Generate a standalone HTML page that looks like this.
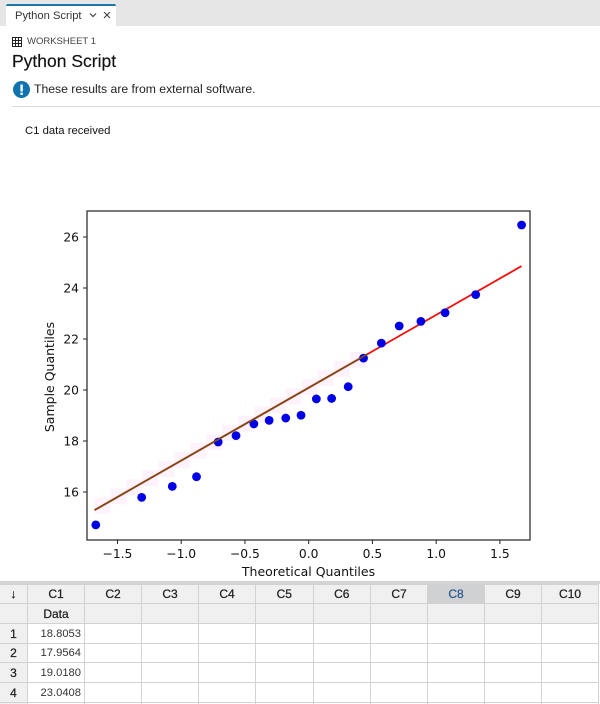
<!DOCTYPE html>
<html lang="en">
<head>
<meta charset="utf-8">
<title>Python Script</title>
<style>
html,body{margin:0;padding:0;background:#fff}
#page{position:relative;width:600px;height:704px;overflow:hidden;background:#fff;font-family:"Liberation Sans",sans-serif;color:#1c1c1c;filter:blur(.3px)}
.abs{position:absolute;white-space:nowrap}
#tabbar{left:0;top:0;width:600px;height:26px;background:#e6e6e6}
#tab{left:6px;top:4px;width:110px;height:22px;background:#fff;border-top:2px solid #1f77a8;box-sizing:border-box;border-radius:2px 2px 0 0}
#grid{position:absolute;left:-1px;top:584px;border-collapse:collapse;table-layout:fixed;width:599px;font-size:12px}
#grid td{padding:0;border:1px solid #d2d2d2;text-align:center;box-sizing:border-box;overflow:hidden;white-space:nowrap}
#grid .h{background:#f0f0f0;color:#222;-webkit-text-stroke:.25px #222}
#grid .n{text-align:right;padding-right:3px;color:#333;font-size:11.2px}
#grid .sel{background:#cfd1d2;color:#2c5a8c;-webkit-text-stroke:.25px #2c5a8c}
svg text{font-family:"DejaVu Sans",sans-serif;fill:#111}
</style>
</head>
<body>
<div id="page">
  <div id="tabbar" class="abs"></div>
  <div id="tab" class="abs"></div>
  <div class="abs" style="left:15px;top:10px;font-size:11.2px;color:#333">Python Script</div>
  <svg class="abs" style="left:88px;top:12px" width="28" height="10">
    <path d="M2 1.5 L5 4.5 L8 1.5" fill="none" stroke="#444" stroke-width="1.2"/>
    <path d="M16 0 L22 6 M22 0 L16 6" fill="none" stroke="#444" stroke-width="1.1"/>
  </svg>
  <svg class="abs" style="left:12px;top:37px" width="11" height="11">
    <path d="M.5 .5H9.5V9.5H.5Z M.5 3.5H9.5 M.5 6.5H9.5 M3.5 .5V9.5 M6.5 .5V9.5" fill="none" stroke="#222" stroke-width="1"/>
  </svg>
  <div class="abs" style="left:27px;top:36px;font-size:9.5px;color:#444;line-height:12px">WORKSHEET 1</div>
  <div class="abs" style="left:12px;top:51px;font-size:17.5px;color:#111;-webkit-text-stroke:.15px #111">Python Script</div>
  <svg class="abs" style="left:13px;top:81px" width="18" height="18">
    <circle cx="8.5" cy="8.5" r="8.5" fill="#0f73b0"/>
    <rect x="7.4" y="3.5" width="2.4" height="7" fill="#fff"/>
    <rect x="7.4" y="11.6" width="2.4" height="2.4" fill="#fff"/>
  </svg>
  <div class="abs" style="left:34px;top:82px;font-size:12.2px;color:#222">These results are from external software.</div>
  <div class="abs" style="left:12px;top:106px;width:588px;height:1px;background:#d9d9d9"></div>
  <div class="abs" style="left:25px;top:125px;font-size:11.3px;color:#111">C1 data received</div>

  <svg id="chart" class="abs" style="left:0;top:0" width="600" height="582"></svg>

  <div class="abs" style="left:0;top:581px;width:600px;height:3px;background:#d4d4d4"></div>
  <table id="grid">
    <colgroup><col style="width:28px"><col style="width:57px"><col style="width:57px"><col style="width:57px"><col style="width:57px"><col style="width:57.5px"><col style="width:57.5px"><col style="width:57px"><col style="width:57px"><col style="width:57px"><col style="width:57px"></colgroup>
    <tr style="height:19px"><td class="h">↓</td><td class="h">C1</td><td class="h">C2</td><td class="h">C3</td><td class="h">C4</td><td class="h">C5</td><td class="h">C6</td><td class="h">C7</td><td class="h sel">C8</td><td class="h">C9</td><td class="h">C10</td></tr>
    <tr style="height:20px"><td class="h"></td><td class="h">Data</td><td class="h"></td><td class="h"></td><td class="h"></td><td class="h"></td><td class="h"></td><td class="h"></td><td class="h"></td><td class="h"></td><td class="h"></td></tr>
    <tr style="height:20px"><td class="h">1</td><td class="n">18.8053</td><td></td><td></td><td></td><td></td><td></td><td></td><td></td><td></td><td></td></tr>
    <tr style="height:19px"><td class="h">2</td><td class="n">17.9564</td><td></td><td></td><td></td><td></td><td></td><td></td><td></td><td></td><td></td></tr>
    <tr style="height:20px"><td class="h">3</td><td class="n">19.0180</td><td></td><td></td><td></td><td></td><td></td><td></td><td></td><td></td><td></td></tr>
    <tr style="height:20px"><td class="h">4</td><td class="n">23.0408</td><td></td><td></td><td></td><td></td><td></td><td></td><td></td><td></td><td></td></tr>
    <tr style="height:20px"><td class="h"></td><td></td><td></td><td></td><td></td><td></td><td></td><td></td><td></td><td></td><td></td></tr>
  </table>
</div>
<script>
const theoretical = [-1.67,-1.31,-1.07,-0.88,-0.71,-0.57,-0.43,-0.31,-0.18,-0.06,0.06,0.18,0.31,0.43,0.57,0.71,0.88,1.07,1.31,1.67];
const sample = [14.71,15.79,16.22,16.60,17.96,18.21,18.67,18.81,18.90,19.01,19.65,19.67,20.13,21.25,21.84,22.51,22.69,23.03,23.74,26.47];
const fitLineX = [-1.68,1.67];
const fitLineY = [15.29,24.86];
const brownEndX = [0.465];
const xTicks = [-1.5,-1.0,-0.5,0,0.5,1.0,1.5];
const xTickLabels = ['−1.5','−1.0','−0.5','0.0','0.5','1.0','1.5'];
const yTicks = [16,18,20,22,24,26];
const yTickLabels = ['16','18','20','22','24','26'];
const xDomain = [-1.739,1.736];
const yDomain = [14.118,27.02];

const plotLeft = 87, plotRight = 530, plotTop = 211, plotBottom = 540;
const NS = 'http://www.w3.org/2000/svg';
const chart = document.getElementById('chart');
function xScale(v){ return plotLeft + (v - xDomain[0]) / (xDomain[1] - xDomain[0]) * (plotRight - plotLeft); }
function yScale(v){ return plotBottom - (v - yDomain[0]) / (yDomain[1] - yDomain[0]) * (plotBottom - plotTop); }
function fitAt(x){ return fitLineY[0] + (x - fitLineX[0]) / (fitLineX[1] - fitLineX[0]) * (fitLineY[1] - fitLineY[0]); }
function make(tag, attrs, parent){
  const el = document.createElementNS(NS, tag);
  for (const k in attrs) el.setAttribute(k, attrs[k]);
  (parent || chart).appendChild(el);
  return el;
}

// faint pink compression halo following the brown part of the fit line
const haloStep = 0.125;
for (let x = fitLineX[0]; x + haloStep <= brownEndX[0] + 0.03; x += haloStep) {
  const halo = make('rect', {x: xScale(x), y: yScale(fitAt(x + haloStep / 2)) - 8, width: 16, height: 16, fill: '#fef3fd'});
  
  
}

// axes frame
const frame = make('rect', {x: plotLeft, y: plotTop, width: plotRight - plotLeft, height: plotBottom - plotTop, fill: 'none', stroke: '#333', 'stroke-width': 1.3});



// ticks and labels
xTicks.forEach(function(t, i){
  const px = xScale(t);
  const tick = make('line', {x1: px, x2: px, y1: plotBottom, y2: plotBottom + 4, stroke: '#222', 'stroke-width': 1});
  
  
  const label = make('text', {x: px, y: plotBottom + 18, 'text-anchor': 'middle', 'font-size': 12.3});
  label.textContent = xTickLabels[i];
  
  
});
yTicks.forEach(function(t, i){
  const py = yScale(t);
  const tick = make('line', {x1: plotLeft - 4, x2: plotLeft, y1: py, y2: py, stroke: '#222', 'stroke-width': 1});
  
  
  const label = make('text', {x: plotLeft - 8, y: py + 4.5, 'text-anchor': 'end', 'font-size': 12.3});
  label.textContent = yTickLabels[i];
  
  
});

// fit line: red overall, brown where it overlaps the halo
const redLine = make('line', {x1: xScale(fitLineX[0]), y1: yScale(fitLineY[0]), x2: xScale(fitLineX[1]), y2: yScale(fitLineY[1]), stroke: '#f01010', 'stroke-width': 1.8});



// sample points
theoretical.forEach(function(q, i){
  const pt = make('circle', {cx: xScale(q), cy: yScale(sample[i]), r: 4.4, fill: '#0000e6'});
  
  
});

const brownLine = make('line', {x1: xScale(fitLineX[0]), y1: yScale(fitLineY[0]), x2: xScale(brownEndX[0]), y2: yScale(fitAt(brownEndX[0])), stroke: '#7f4a14', 'stroke-width': 1.8});



// axis titles
const xTitle = make('text', {x: (plotLeft + plotRight) / 2, y: 576, 'text-anchor': 'middle', 'font-size': 12.5});
xTitle.textContent = 'Theoretical Quantiles';


const yTitle = make('text', {x: 0, y: 0, 'text-anchor': 'middle', 'font-size': 12.5, transform: 'translate(54 377) rotate(-90)'});
yTitle.textContent = 'Sample Quantiles';


</script>
</body>
</html>
